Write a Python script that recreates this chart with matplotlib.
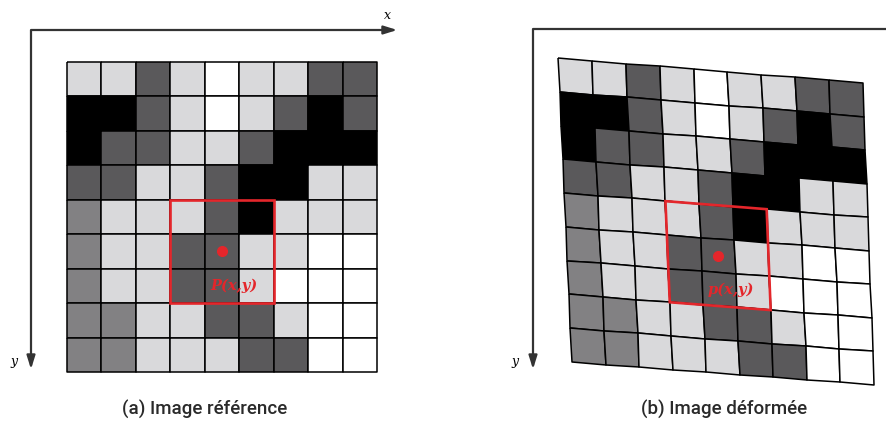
import numpy as np
import matplotlib
matplotlib.use("Agg")
import matplotlib.pyplot as plt
from matplotlib.colors import ListedColormap, BoundaryNorm
from matplotlib.patches import Polygon

# gray level of every pixel: 0 black, 1 dark, 2 mid, 3 light, 4 white
levels = np.array([
    [3, 3, 1, 3, 4, 3, 3, 1, 1],
    [0, 0, 1, 3, 4, 3, 1, 0, 1],
    [0, 1, 1, 3, 3, 1, 0, 0, 0],
    [1, 1, 3, 3, 1, 0, 0, 3, 3],
    [2, 3, 3, 3, 1, 0, 3, 3, 3],
    [2, 3, 3, 1, 1, 3, 3, 4, 4],
    [2, 3, 3, 1, 1, 3, 4, 4, 4],
    [2, 2, 3, 3, 1, 1, 3, 4, 4],
    [2, 2, 3, 3, 3, 1, 1, 4, 4],
])
gray_colors = ['#000000', '#5a595b', '#828183', '#d9d9db', '#ffffff']
captions = ['(a) Image référence', '(b) Image déformée']
point_labels = ['P(x,y)', 'p(x,y)']

n = levels.shape[0]
cmap = ListedColormap(gray_colors)
norm = BoundaryNorm(np.arange(-0.5, 5.5), cmap.N)

# left grid (pixels), right grid given by its four corners
x0, y0, size = 67, 62, 310
TL, TR, BL, BR = map(np.array, [(558, 58), (863, 83), (572, 362), (874, 385)])


def ref_map(u, v):
    return x0 + u * size / n, y0 + v * size / n


def warp_map(u, v):
    u = np.asarray(u, float) / n
    v = np.asarray(v, float) / n
    x = (1-u)*(1-v)*TL[0] + u*(1-v)*TR[0] + (1-u)*v*BL[0] + u*v*BR[0]
    y = (1-u)*(1-v)*TL[1] + u*(1-v)*TR[1] + (1-u)*v*BL[1] + u*v*BR[1]
    return x, y


fig = plt.figure(figsize=(8.86, 4.28), dpi=100)
ax = fig.add_axes([0, 0, 1, 1])
ax.set_xlim(0, 886)
ax.set_ylim(428, 0)
ax.axis('off')

U, V = np.meshgrid(np.arange(n + 1), np.arange(n + 1))
red = '#e4262b'
box = [(3, 4), (6, 4), (6, 7), (3, 7)]

for mapper, lab, cap, cx in [(ref_map, point_labels[0], captions[0], 205),
                             (warp_map, point_labels[1], captions[1], 724)]:
    X, Y = mapper(U, V)
    ax.pcolormesh(X, Y, levels, cmap=cmap, norm=norm,
                  edgecolors='#000000', linewidth=1.1, antialiased=True)
    pts = [mapper(u, v) for u, v in box]
    ax.add_patch(Polygon(pts, closed=True, fill=False, edgecolor=red, lw=1.9, zorder=5))
    dx, dy = mapper(4.5, 5.5)
    ax.plot(dx, dy, 'o', color=red, ms=7, zorder=6)
    tx, ty = mapper(4.85, 6.5)
    ax.text(tx, ty, lab, color=red, fontsize=10.5, family='DejaVu Serif',
            style='italic', weight='bold', ha='center', va='center', zorder=6)
    ax.text(cx, 409, cap, fontsize=13.5, family='Roboto', weight='medium',
            color='#2a2a2a', ha='center', va='center')

# frame axes
axc = '#333333'
ax.plot([31, 31, 392], [364, 30, 30], color=axc, lw=1.6, solid_joinstyle='round')
ax.annotate('', xy=(400, 30), xytext=(385, 30),
            arrowprops=dict(arrowstyle='-|>,head_length=0.8,head_width=0.25', color=axc, lw=1.6))
ax.annotate('', xy=(31, 372), xytext=(31, 355),
            arrowprops=dict(arrowstyle='-|>,head_length=0.8,head_width=0.25', color=axc, lw=1.6))
ax.text(387, 15, 'x', family='DejaVu Serif', style='italic', fontsize=9, ha='center', va='center')
ax.text(14, 362, 'y', family='DejaVu Serif', style='italic', fontsize=9, ha='center', va='center')

ax.plot([533, 533, 886], [364, 29, 29], color=axc, lw=1.6)
ax.annotate('', xy=(533, 372), xytext=(533, 355),
            arrowprops=dict(arrowstyle='-|>,head_length=0.8,head_width=0.25', color=axc, lw=1.6))
ax.text(515, 362, 'y', family='DejaVu Serif', style='italic', fontsize=9, ha='center', va='center')

fig.savefig('out.png', dpi=100)
